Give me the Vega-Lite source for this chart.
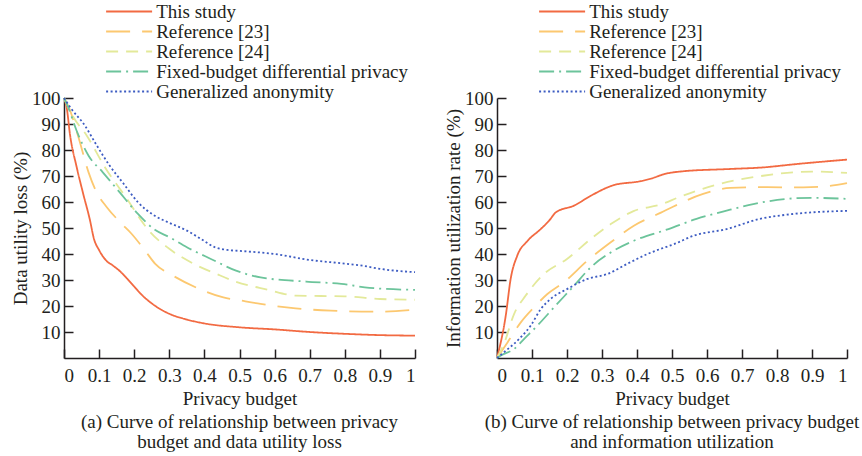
{
  "$schema": "https://vega.github.io/schema/vega-lite/v6.json",
  "padding": {"left": 11, "top": 2, "right": 0, "bottom": 0},
  "config": {
    "font": "Liberation Serif",
    "view": {"stroke": null},
    "axis": {"labelFont": "Liberation Serif", "titleFont": "Liberation Serif", "labelFontSize": 19, "titleFontSize": 19, "titleFontWeight": "normal", "labelColor": "#231f20", "titleColor": "#231f20", "domainColor": "#231f20", "tickColor": "#231f20", "grid": false, "tickSize": -9, "domainWidth": 1.5, "tickWidth": 1.5},
    "legend": {"orient": "none", "legendX": 55.6, "legendY": -96, "title": null, "labelFont": "Liberation Serif", "labelFontSize": 19, "labelColor": "#231f20", "labelLimit": 400, "symbolType": "M-3,0L3,0", "symbolSize": 235, "symbolStrokeWidth": 2, "labelOffset": 17.6, "rowPadding": 0},
    "title": {"font": "Liberation Serif", "fontSize": 19, "fontWeight": "normal", "color": "#231f20"}
  },
  "datasets": {
    "loss": [
      {"method": "This study", "budget": 0, "value": 100},
      {"method": "This study", "budget": 0.008, "value": 96},
      {"method": "This study", "budget": 0.017, "value": 86},
      {"method": "This study", "budget": 0.036, "value": 73.5},
      {"method": "This study", "budget": 0.055, "value": 63},
      {"method": "This study", "budget": 0.074, "value": 53},
      {"method": "This study", "budget": 0.085, "value": 46},
      {"method": "This study", "budget": 0.1, "value": 41.5},
      {"method": "This study", "budget": 0.12, "value": 37.5},
      {"method": "This study", "budget": 0.14, "value": 35.5},
      {"method": "This study", "budget": 0.16, "value": 33.3},
      {"method": "This study", "budget": 0.18, "value": 30.5},
      {"method": "This study", "budget": 0.2, "value": 27.5},
      {"method": "This study", "budget": 0.22, "value": 24.5},
      {"method": "This study", "budget": 0.25, "value": 21},
      {"method": "This study", "budget": 0.3, "value": 17},
      {"method": "This study", "budget": 0.35, "value": 14.8},
      {"method": "This study", "budget": 0.4, "value": 13.3},
      {"method": "This study", "budget": 0.5, "value": 11.8},
      {"method": "This study", "budget": 0.6, "value": 11},
      {"method": "This study", "budget": 0.7, "value": 10},
      {"method": "This study", "budget": 0.8, "value": 9.3},
      {"method": "This study", "budget": 0.9, "value": 8.8},
      {"method": "This study", "budget": 1, "value": 8.6},
      {"method": "Reference [23]", "budget": 0, "value": 100},
      {"method": "Reference [23]", "budget": 0.015, "value": 96},
      {"method": "Reference [23]", "budget": 0.041, "value": 85},
      {"method": "Reference [23]", "budget": 0.07, "value": 71.4},
      {"method": "Reference [23]", "budget": 0.093, "value": 63.7},
      {"method": "Reference [23]", "budget": 0.122, "value": 58},
      {"method": "Reference [23]", "budget": 0.16, "value": 52.2},
      {"method": "Reference [23]", "budget": 0.193, "value": 47.7},
      {"method": "Reference [23]", "budget": 0.231, "value": 41.3},
      {"method": "Reference [23]", "budget": 0.26, "value": 36.2},
      {"method": "Reference [23]", "budget": 0.31, "value": 31.7},
      {"method": "Reference [23]", "budget": 0.387, "value": 26.5},
      {"method": "Reference [23]", "budget": 0.454, "value": 23.3},
      {"method": "Reference [23]", "budget": 0.5, "value": 22.2},
      {"method": "Reference [23]", "budget": 0.56, "value": 20.8},
      {"method": "Reference [23]", "budget": 0.66, "value": 19.1},
      {"method": "Reference [23]", "budget": 0.76, "value": 18.2},
      {"method": "Reference [23]", "budget": 0.89, "value": 17.8},
      {"method": "Reference [23]", "budget": 1, "value": 18.6},
      {"method": "Reference [24]", "budget": 0, "value": 100},
      {"method": "Reference [24]", "budget": 0.027, "value": 92.6},
      {"method": "Reference [24]", "budget": 0.065, "value": 85.5},
      {"method": "Reference [24]", "budget": 0.117, "value": 73.3},
      {"method": "Reference [24]", "budget": 0.183, "value": 60.5},
      {"method": "Reference [24]", "budget": 0.217, "value": 53.5},
      {"method": "Reference [24]", "budget": 0.24, "value": 49.3},
      {"method": "Reference [24]", "budget": 0.3, "value": 42},
      {"method": "Reference [24]", "budget": 0.37, "value": 36.2},
      {"method": "Reference [24]", "budget": 0.435, "value": 32.3},
      {"method": "Reference [24]", "budget": 0.49, "value": 29.3},
      {"method": "Reference [24]", "budget": 0.58, "value": 26.3},
      {"method": "Reference [24]", "budget": 0.66, "value": 24},
      {"method": "Reference [24]", "budget": 0.8, "value": 23.7},
      {"method": "Reference [24]", "budget": 0.9, "value": 22.7},
      {"method": "Reference [24]", "budget": 1, "value": 22.4},
      {"method": "Fixed-budget differential privacy", "budget": 0, "value": 100},
      {"method": "Fixed-budget differential privacy", "budget": 0.012, "value": 96.4},
      {"method": "Fixed-budget differential privacy", "budget": 0.036, "value": 87.4},
      {"method": "Fixed-budget differential privacy", "budget": 0.07, "value": 77.8},
      {"method": "Fixed-budget differential privacy", "budget": 0.11, "value": 71.5},
      {"method": "Fixed-budget differential privacy", "budget": 0.16, "value": 63.5},
      {"method": "Fixed-budget differential privacy", "budget": 0.21, "value": 55.5},
      {"method": "Fixed-budget differential privacy", "budget": 0.26, "value": 49.2},
      {"method": "Fixed-budget differential privacy", "budget": 0.3, "value": 46.5},
      {"method": "Fixed-budget differential privacy", "budget": 0.35, "value": 42.6},
      {"method": "Fixed-budget differential privacy", "budget": 0.42, "value": 38},
      {"method": "Fixed-budget differential privacy", "budget": 0.49, "value": 33.6},
      {"method": "Fixed-budget differential privacy", "budget": 0.56, "value": 31},
      {"method": "Fixed-budget differential privacy", "budget": 0.69, "value": 29.4},
      {"method": "Fixed-budget differential privacy", "budget": 0.79, "value": 28.5},
      {"method": "Fixed-budget differential privacy", "budget": 0.87, "value": 27},
      {"method": "Fixed-budget differential privacy", "budget": 1, "value": 26.2},
      {"method": "Generalized anonymity", "budget": 0, "value": 100},
      {"method": "Generalized anonymity", "budget": 0.02, "value": 96},
      {"method": "Generalized anonymity", "budget": 0.06, "value": 89.3},
      {"method": "Generalized anonymity", "budget": 0.09, "value": 82.5},
      {"method": "Generalized anonymity", "budget": 0.13, "value": 74},
      {"method": "Generalized anonymity", "budget": 0.17, "value": 67},
      {"method": "Generalized anonymity", "budget": 0.21, "value": 60},
      {"method": "Generalized anonymity", "budget": 0.26, "value": 54.6},
      {"method": "Generalized anonymity", "budget": 0.3, "value": 52},
      {"method": "Generalized anonymity", "budget": 0.35, "value": 49},
      {"method": "Generalized anonymity", "budget": 0.39, "value": 45.8},
      {"method": "Generalized anonymity", "budget": 0.43, "value": 42.6},
      {"method": "Generalized anonymity", "budget": 0.47, "value": 41.5},
      {"method": "Generalized anonymity", "budget": 0.5, "value": 41.2},
      {"method": "Generalized anonymity", "budget": 0.6, "value": 40},
      {"method": "Generalized anonymity", "budget": 0.7, "value": 37.7},
      {"method": "Generalized anonymity", "budget": 0.8, "value": 36.3},
      {"method": "Generalized anonymity", "budget": 0.85, "value": 35.5},
      {"method": "Generalized anonymity", "budget": 0.9, "value": 34.3},
      {"method": "Generalized anonymity", "budget": 1, "value": 33}
    ],
    "util": [
      {"method": "This study", "budget": 0, "value": 0},
      {"method": "This study", "budget": 0.025, "value": 16.3},
      {"method": "This study", "budget": 0.039, "value": 30.4},
      {"method": "This study", "budget": 0.058, "value": 39.4},
      {"method": "This study", "budget": 0.087, "value": 45},
      {"method": "This study", "budget": 0.125, "value": 49.6},
      {"method": "This study", "budget": 0.15, "value": 53},
      {"method": "This study", "budget": 0.168, "value": 56},
      {"method": "This study", "budget": 0.22, "value": 58.6},
      {"method": "This study", "budget": 0.268, "value": 62.4},
      {"method": "This study", "budget": 0.334, "value": 66.5},
      {"method": "This study", "budget": 0.41, "value": 68},
      {"method": "This study", "budget": 0.44, "value": 69},
      {"method": "This study", "budget": 0.48, "value": 70.8},
      {"method": "This study", "budget": 0.53, "value": 71.8},
      {"method": "This study", "budget": 0.666, "value": 72.7},
      {"method": "This study", "budget": 0.76, "value": 73.3},
      {"method": "This study", "budget": 0.856, "value": 74.6},
      {"method": "This study", "budget": 1, "value": 76.3},
      {"method": "Reference [23]", "budget": 0, "value": 0},
      {"method": "Reference [23]", "budget": 0.03, "value": 6},
      {"method": "Reference [23]", "budget": 0.068, "value": 13.7},
      {"method": "Reference [23]", "budget": 0.106, "value": 19.5},
      {"method": "Reference [23]", "budget": 0.144, "value": 24.6},
      {"method": "Reference [23]", "budget": 0.191, "value": 29.1},
      {"method": "Reference [23]", "budget": 0.258, "value": 37.4},
      {"method": "Reference [23]", "budget": 0.325, "value": 44.5},
      {"method": "Reference [23]", "budget": 0.391, "value": 50.9},
      {"method": "Reference [23]", "budget": 0.47, "value": 56},
      {"method": "Reference [23]", "budget": 0.5, "value": 58},
      {"method": "Reference [23]", "budget": 0.589, "value": 63.1},
      {"method": "Reference [23]", "budget": 0.666, "value": 65.4},
      {"method": "Reference [23]", "budget": 0.76, "value": 65.7},
      {"method": "Reference [23]", "budget": 0.875, "value": 65.6},
      {"method": "Reference [23]", "budget": 0.95, "value": 66.2},
      {"method": "Reference [23]", "budget": 1, "value": 67.3},
      {"method": "Reference [24]", "budget": 0, "value": 0},
      {"method": "Reference [24]", "budget": 0.02, "value": 5.5},
      {"method": "Reference [24]", "budget": 0.049, "value": 17},
      {"method": "Reference [24]", "budget": 0.082, "value": 24},
      {"method": "Reference [24]", "budget": 0.134, "value": 32.3},
      {"method": "Reference [24]", "budget": 0.2, "value": 38.1},
      {"method": "Reference [24]", "budget": 0.268, "value": 45.8},
      {"method": "Reference [24]", "budget": 0.325, "value": 51.5},
      {"method": "Reference [24]", "budget": 0.39, "value": 56.5},
      {"method": "Reference [24]", "budget": 0.467, "value": 59},
      {"method": "Reference [24]", "budget": 0.523, "value": 62},
      {"method": "Reference [24]", "budget": 0.618, "value": 66.3},
      {"method": "Reference [24]", "budget": 0.76, "value": 70.1},
      {"method": "Reference [24]", "budget": 0.9, "value": 71.7},
      {"method": "Reference [24]", "budget": 1, "value": 71.2},
      {"method": "Fixed-budget differential privacy", "budget": 0, "value": 0},
      {"method": "Fixed-budget differential privacy", "budget": 0.01, "value": 0.9},
      {"method": "Fixed-budget differential privacy", "budget": 0.049, "value": 3.5},
      {"method": "Fixed-budget differential privacy", "budget": 0.077, "value": 7.3},
      {"method": "Fixed-budget differential privacy", "budget": 0.115, "value": 12.4},
      {"method": "Fixed-budget differential privacy", "budget": 0.163, "value": 19.5},
      {"method": "Fixed-budget differential privacy", "budget": 0.22, "value": 27.8},
      {"method": "Fixed-budget differential privacy", "budget": 0.268, "value": 34.9},
      {"method": "Fixed-budget differential privacy", "budget": 0.325, "value": 40.6},
      {"method": "Fixed-budget differential privacy", "budget": 0.391, "value": 45.1},
      {"method": "Fixed-budget differential privacy", "budget": 0.49, "value": 49.6},
      {"method": "Fixed-budget differential privacy", "budget": 0.57, "value": 53.5},
      {"method": "Fixed-budget differential privacy", "budget": 0.656, "value": 56.7},
      {"method": "Fixed-budget differential privacy", "budget": 0.732, "value": 59.2},
      {"method": "Fixed-budget differential privacy", "budget": 0.847, "value": 61.4},
      {"method": "Fixed-budget differential privacy", "budget": 0.9, "value": 61.6},
      {"method": "Fixed-budget differential privacy", "budget": 1, "value": 61.2},
      {"method": "Generalized anonymity", "budget": 0, "value": 0},
      {"method": "Generalized anonymity", "budget": 0.02, "value": 2.2},
      {"method": "Generalized anonymity", "budget": 0.068, "value": 8},
      {"method": "Generalized anonymity", "budget": 0.096, "value": 12.4},
      {"method": "Generalized anonymity", "budget": 0.125, "value": 18.8},
      {"method": "Generalized anonymity", "budget": 0.153, "value": 22.7},
      {"method": "Generalized anonymity", "budget": 0.2, "value": 26.5},
      {"method": "Generalized anonymity", "budget": 0.258, "value": 30.4},
      {"method": "Generalized anonymity", "budget": 0.315, "value": 32.3},
      {"method": "Generalized anonymity", "budget": 0.372, "value": 36.2},
      {"method": "Generalized anonymity", "budget": 0.43, "value": 40},
      {"method": "Generalized anonymity", "budget": 0.466, "value": 41.9},
      {"method": "Generalized anonymity", "budget": 0.506, "value": 43.8},
      {"method": "Generalized anonymity", "budget": 0.561, "value": 47},
      {"method": "Generalized anonymity", "budget": 0.656, "value": 49.6},
      {"method": "Generalized anonymity", "budget": 0.751, "value": 53.5},
      {"method": "Generalized anonymity", "budget": 0.847, "value": 55.4},
      {"method": "Generalized anonymity", "budget": 1, "value": 56.6}
    ]
  },
  "spacing": 25,
  "resolve": {"scale": {"color": "independent", "strokeDash": "independent"}, "legend": {"color": "independent", "strokeDash": "independent"}},
  "hconcat": [
    {
      "width": 351,
      "height": 260,
      "data": {"name": "loss"},
      "mark": {"type": "line", "interpolate": "monotone", "strokeWidth": 1.8},
      "encoding": {
        "x": {"field": "budget", "type": "quantitative", "scale": {"domain": [0, 1], "nice": false}, "axis": {"title": "Privacy budget", "values": [0, 0.1, 0.2, 0.3, 0.4, 0.5, 0.6, 0.7, 0.8, 0.9, 1], "format": "~g", "labelPadding": 17, "titlePadding": 4}},
        "y": {"field": "value", "type": "quantitative", "scale": {"domain": [0, 100]}, "axis": {"title": "Data utility loss (%)", "values": [10, 20, 30, 40, 50, 60, 70, 80, 90, 100], "labelPadding": 13, "titlePadding": 1}},
        "color": {"field": "method", "type": "nominal", "scale": {"domain": ["This study", "Reference [23]", "Reference [24]", "Fixed-budget differential privacy", "Generalized anonymity"], "range": ["#f26a42", "#fcc870", "#e3e99a", "#6cc49b", "#3d5cc2"]}},
        "strokeDash": {"field": "method", "type": "nominal", "scale": {"domain": ["This study", "Reference [23]", "Reference [24]", "Fixed-budget differential privacy", "Generalized anonymity"], "range": [[1, 0], [24, 12], [12, 8], [15, 5, 2, 5], [2, 2.5]]}}
      },
      "title": {"text": ["(a) Curve of relationship between privacy", "budget and data utility loss"], "orient": "bottom", "frame": "group", "anchor": "middle", "lineHeight": 20, "offset": 5}
    },
    {
      "width": 350,
      "height": 260,
      "data": {"name": "util"},
      "mark": {"type": "line", "interpolate": "monotone", "strokeWidth": 1.8},
      "encoding": {
        "x": {"field": "budget", "type": "quantitative", "scale": {"domain": [0, 1], "nice": false}, "axis": {"title": "Privacy budget", "values": [0, 0.1, 0.2, 0.3, 0.4, 0.5, 0.6, 0.7, 0.8, 0.9, 1], "format": "~g", "labelPadding": 17, "titlePadding": 4}},
        "y": {"field": "value", "type": "quantitative", "scale": {"domain": [0, 100]}, "axis": {"title": "Information utilization rate (%)", "values": [10, 20, 30, 40, 50, 60, 70, 80, 90, 100], "labelPadding": 13, "titlePadding": 1}},
        "color": {"field": "method", "type": "nominal", "scale": {"domain": ["This study", "Reference [23]", "Reference [24]", "Fixed-budget differential privacy", "Generalized anonymity"], "range": ["#f26a42", "#fcc870", "#e3e99a", "#6cc49b", "#3d5cc2"]}},
        "strokeDash": {"field": "method", "type": "nominal", "scale": {"domain": ["This study", "Reference [23]", "Reference [24]", "Fixed-budget differential privacy", "Generalized anonymity"], "range": [[1, 0], [24, 12], [12, 8], [15, 5, 2, 5], [2, 2.5]]}}
      },
      "title": {"text": ["(b) Curve of relationship between privacy budget", "and information utilization"], "orient": "bottom", "frame": "group", "anchor": "middle", "lineHeight": 20, "offset": 5}
    }
  ]
}
